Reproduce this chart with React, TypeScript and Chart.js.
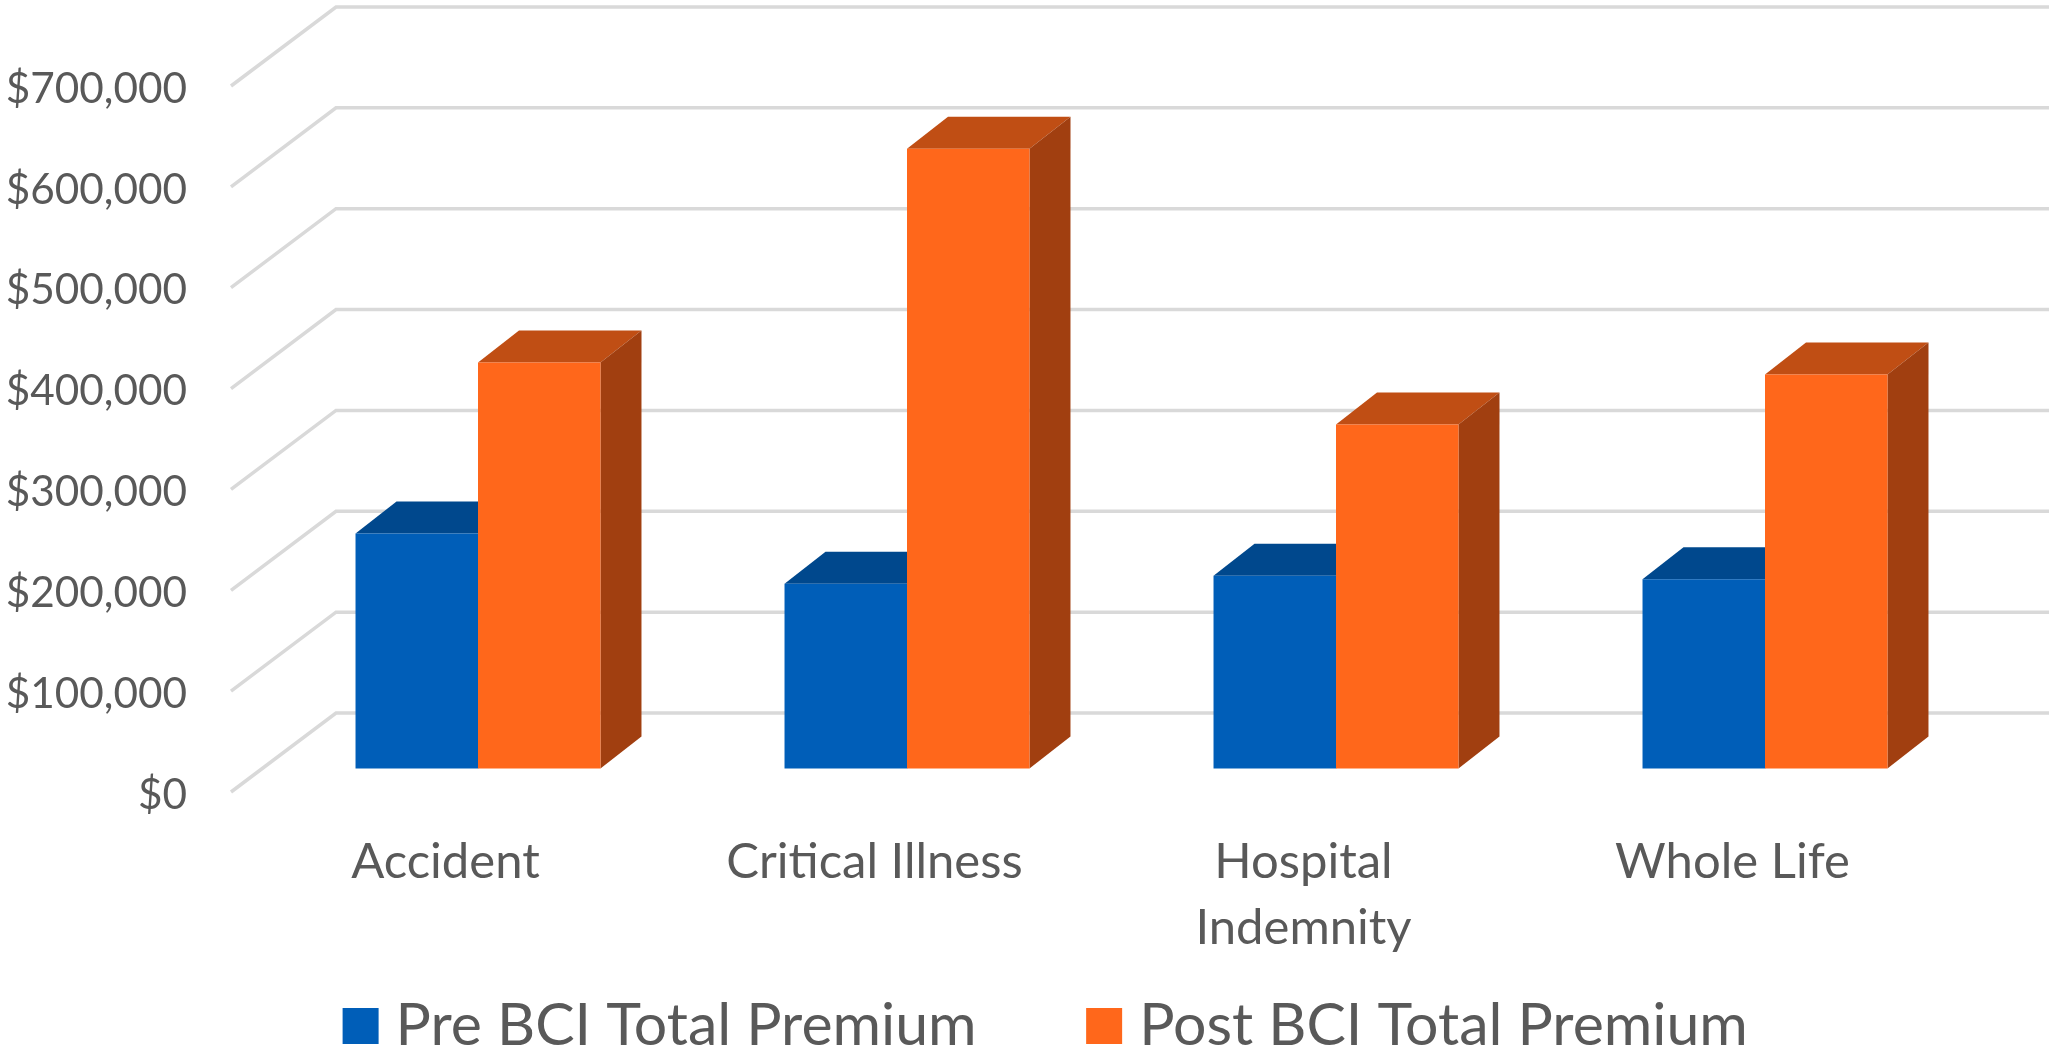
import React, { useEffect, useRef } from "react";
import { Chart, registerables } from "chart.js";

Chart.register(...registerables);

const categories = ["Accident", "Critical Illness", ["Hospital", "Indemnity"], "Whole Life"];
const preValues = [233000, 183000, 191000, 187500];
const postValues = [402500, 614500, 341000, 390500];
const seriesNames = ["Pre BCI Total Premium", "Post BCI Total Premium"];
const frontColors = ["#005EB8", "#FF671B"];
const topColors = ["#00488D", "#C04E14"];
const sideColors = ["#003A70", "#A13F10"];
const gridColor = "#D9D9D9";
const textColor = "#595959";
const fontFamily = "Lato, 'Open Sans', sans-serif";

const wallDx = 105, wallDy = 79;      // depth of the floor
const planeDx = 32.5, planeDy = 23.6; // bars stand this far behind the front edge
const barDx = 41, barDy = 32;         // depth of each bar

const legendLeftShift = 78, legendTextTop = 996.5, legendGap = 122;

const depthPlugin = {
  id: "depth",
  afterLayout(chart: any) {
    const l = chart.legend;
    l.left += legendLeftShift;
    l.right += legendLeftShift;
    l.top = legendTextTop - legendGap;
    l.bottom = chart.height;
  },
  beforeDatasetsDraw(chart: any) {
    const { ctx, chartArea, scales } = chart;
    ctx.save();
    ctx.strokeStyle = gridColor;
    ctx.lineWidth = 3.5;
    ctx.lineJoin = "miter";
    for (const t of scales.y.ticks) {
      const y = scales.y.getPixelForValue(t.value);
      ctx.beginPath();
      ctx.moveTo(chartArea.left, y);
      ctx.lineTo(chartArea.left + wallDx, y - wallDy);
      ctx.lineTo(chart.width + 10, y - wallDy);
      ctx.stroke();
    }
    ctx.restore();
    ctx.save();
    ctx.translate(planeDx, -planeDy);
    chart.data.datasets.forEach((_: any, i: number) => {
      for (const bar of chart.getDatasetMeta(i).data) {
        const { x, y, base, width } = bar.getProps(["x", "y", "base", "width"], true);
        const l = x - width / 2, r = x + width / 2;
        ctx.fillStyle = topColors[i];
        ctx.beginPath();
        ctx.moveTo(l, y);
        ctx.lineTo(l + barDx, y - barDy);
        ctx.lineTo(r + barDx, y - barDy);
        ctx.lineTo(r, y);
        ctx.closePath();
        ctx.fill();
        ctx.fillStyle = sideColors[i];
        ctx.beginPath();
        ctx.moveTo(r, y);
        ctx.lineTo(r + barDx, y - barDy);
        ctx.lineTo(r + barDx, base - barDy);
        ctx.lineTo(r, base);
        ctx.closePath();
        ctx.fill();
      }
    });
  },
  afterDatasetsDraw(chart: any) {
    chart.ctx.restore();
  },
};

export default function App() {
  const ref = useRef<HTMLCanvasElement>(null);
  useEffect(() => {
    const chart = new Chart(ref.current as any, {
      type: "bar",
      data: {
        labels: categories as any,
        datasets: [preValues, postValues].map((data, i) => ({
          label: seriesNames[i],
          data,
          backgroundColor: frontColors[i],
          borderWidth: 0,
          categoryPercentage: 0.571,
          barPercentage: 1,
          clip: false as any,
        })),
      },
      options: {
        responsive: false,
        animation: false,
        layout: { padding: { left: 0, right: 102, top: 86, bottom: 0 } },
        plugins: {
          tooltip: { enabled: false },
          legend: {
            position: "bottom",
            maxHeight: 100,
            labels: {
              boxWidth: 11,
              boxHeight: 11,
              padding: legendGap,
              color: textColor,
              font: { family: fontFamily, size: 59 },
              generateLabels: () =>
                seriesNames.map((text, i) => ({
                  text,
                  fillStyle: frontColors[i],
                  strokeStyle: frontColors[i],
                  lineWidth: 25,
                  datasetIndex: i,
                  fontColor: textColor,
                })),
            },
          } as any,
        },
        scales: {
          x: {
            grid: { display: false, drawTicks: false },
            border: { display: false },
            afterFit: (s: any) => { s.height = 165; },
            ticks: {
              color: textColor,
              font: { family: fontFamily, size: 49, lineHeight: 1.33 },
              padding: 38,
              maxRotation: 0,
              minRotation: 0,
              autoSkip: false,
            },
          },
          y: {
            min: 0,
            max: 700000,
            grid: { display: false, drawTicks: false },
            border: { display: false },
            afterFit: (s: any) => { s.width = 231; },
            ticks: {
              stepSize: 100000,
              color: textColor,
              font: { family: fontFamily, size: 42.3 },
              padding: 44,
              labelOffset: 3,
              callback: (v: any) => "$" + Number(v).toLocaleString("en-US"),
            },
          },
        },
      },
      plugins: [depthPlugin],
    } as any);
    return () => chart.destroy();
  }, []);
  return (
    <div style={{ position: "absolute", left: 0, top: 0, width: 2049, height: 1057, background: "#fff" }}>
      <canvas ref={ref} width={2049} height={1057} style={{ display: "block" }} />
    </div>
  );
}
